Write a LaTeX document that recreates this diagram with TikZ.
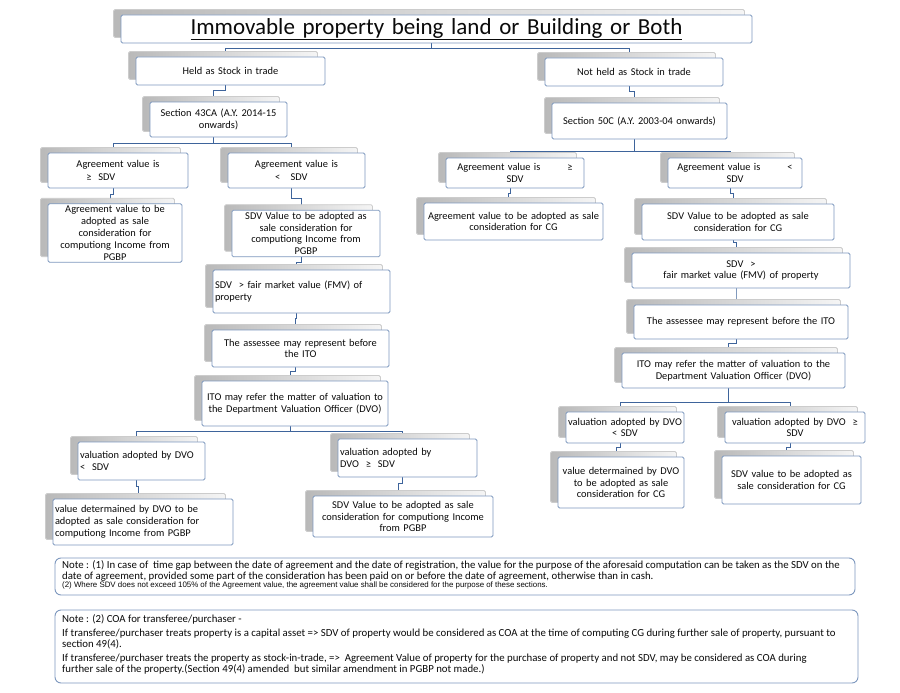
\documentclass[tikz,border=0pt]{standalone}
\usepackage{fontspec}
\setmainfont{Carlito}
\newfontfamily\arialf{Liberation Sans}
\usetikzlibrary{shadows,backgrounds}
\definecolor{bordc}{RGB}{125,152,190}
\definecolor{connc}{RGB}{62,100,155}
\definecolor{txtc}{RGB}{10,10,10}
\tikzset{
  box/.style={draw=bordc, line width=0.8pt, fill=white, rounded corners=1.5pt,
    inner xsep=2pt, inner ysep=2pt, align=center, text=txtc,
    font=\fontsize{10.4}{11.8}\selectfont,
    general shadow={shadow xshift=-7.5pt, shadow yshift=5.5pt,
      left color=gray!55, right color=gray!8, draw=gray!40}},
  conn/.style={draw=connc, line width=1pt},
  notebox/.style={draw=bordc, line width=0.9pt, rounded corners=6pt, fill=white}
}
% \bx[options]{name}{x1}{y1}{x2}{y2}{text}
\newcommand\bx[7][]{%
  \pgfmathsetmacro\bxw{#5-#3}\pgfmathsetmacro\bxh{#6-#4}\pgfmathsetmacro\bxtw{#5-#3-4}%
  \node[box,minimum width=\bxw pt,minimum height=\bxh pt,text width=\bxtw pt,#1]
    (#2) at ({(#3+#5)/2},{(#4+#6)/2}) {#7};}
% \lnk{parent}{child}{drop}
\newcommand\lnk[3]{\draw[conn] ([xshift=-5pt]#1.south) -- ++(0,#3) -| ([xshift=-5pt]#2.north);}
\begin{document}
\begin{tikzpicture}[x=1pt,y=-1pt]
\useasboundingbox (0,0) rectangle (900,693);
\begin{pgfonlayer}{background}
\fill[white] (0,0) rectangle (900,693);
\end{pgfonlayer}

% top
\bx[font=\fontsize{23}{25}\selectfont, inner ysep=0pt]{t}{121}{15}{752}{43}{\underline{Immovable property being land or Building or Both}}
\bx{h}{136}{57}{325}{85}{Held as Stock in trade}
\bx{nh}{545}{58}{723}{86}{Not held as Stock in trade}
\bx{s43}{150}{102}{287}{137}{Section 43CA (A.Y. 2014-15\\onwards)}
\bx{s50}{552}{103}{727}{139}{Section 50C (A.Y. 2003-04 onwards)}

% left branch
\bx{a1}{48}{153}{188}{188}{Agreement value is\\[2pt]\hspace*{-3.3em}≥\ \ SDV}
\bx{a2}{228}{153}{365}{188}{Agreement value is\\[2pt]\hspace*{-1em}<\ \ \ SDV}
\bx{a3}{48}{204}{182}{262}{Agreement value to be\\adopted as sale\\consideration for\\computiong Income from\\PGBP}
\bx{a4}{232}{211}{380}{256}{SDV Value to be adopted as\\sale consideration for\\computiong Income from\\PGBP}
\bx[align=left]{a5}{213}{270}{390}{313}{SDV\ \ > fair market value (FMV) of\\property\\[12pt]}
\bx{a6}{212}{330}{389}{367}{The assessee may represent before\\the ITO}
\bx{a7}{202}{381}{388}{426}{ITO may refer the matter of valuation to\\the Department Valuation Officer (DVO)}
\bx[align=left]{a8}{78}{442}{205}{480}{valuation adopted by DVO\\<\ \ SDV\\[6pt]}
\bx[align=left]{a9}{338}{439}{477}{477}{valuation adopted by\\DVO\ \ ≥\ \ SDV\\[6pt]}
\bx[align=left]{a10}{53}{499}{233}{545}{value determained by DVO to be\\adopted as sale consideration for\\computiong Income from PGBP}
\bx{a11}{313}{496}{493}{537}{SDV Value to be adopted as sale\\consideration for computiong Income\\from PGBP}

% right branch
\bx{b1}{446}{158}{584}{188}{Agreement value is\hspace{2.6em}≥\\SDV}
\bx{b2}{668}{158}{802}{188}{Agreement value is\hspace{2.6em}<\\SDV}
\bx{b3}{424}{203}{603}{240}{Agreement value to be adopted as sale\\consideration for CG}
\bx{b4}{642}{204}{834}{240}{SDV Value to be adopted as sale\\consideration for CG}
\bx{b5}{632}{253}{850}{288}{SDV\ \ >\\fair market value (FMV) of property}
\bx{b6}{634}{305}{848}{339}{The assessee may represent before the ITO}
\bx{b7}{622}{353}{845}{388}{ITO may refer the matter of valuation to the\\Department Valuation Officer (DVO)}
\bx{b8}{566}{412}{684}{443}{valuation adopted by DVO\\< SDV}
\bx{b9}{725}{412}{865}{443}{valuation adopted by DVO\ \ ≥\\SDV}
\bx{b10}{558}{457}{684}{508}{value determained by DVO\\to be adopted as sale\\consideration for CG}
\bx{b11}{722}{456}{861}{504}{SDV value to be adopted as\\sale consideration for CG}

% notes
\node[notebox, minimum width=800pt, minimum height=37pt] (n1) at (455,576.5) {};
\node[anchor=north west, inner sep=0pt, align=left, text=txtc,
  font=\fontsize{10.8}{10.4}\selectfont] (n1t) at (62,560.5)
  {Note : (1) In case of\ \ time gap between the date of agreement and the date of registration, the value for the purpose of the aforesaid computation can be taken as the SDV on the\\
   date of agreement, provided some part of the consideration has been paid on or before the date of agreement, otherwise than in cash.\\[-1.5pt]
   {\arialf\fontsize{7.9}{8.5}\selectfont (2) Where SDV does not exceed 105\% of the Agreement value, the agreement value shall be considered for the purpose of these sections.}};
\node[notebox, minimum width=803pt, minimum height=73pt] (n2) at (456.5,646.5) {};
\node[anchor=north west, inner sep=0pt, align=left, text=txtc,
  font=\fontsize{10.8}{11.2}\selectfont] (n2t) at (62,614)
  {Note : (2) COA for transferee/purchaser -\\[3pt]
   If transferee/purchaser treats property is a capital asset => SDV of property would be considered as COA at the time of computing CG during further sale of property, pursuant to\\
   section 49(4).\\[3pt]
   If transferee/purchaser treats the property as stock-in-trade, =>\ \ Agreement Value of property for the purchase of property and not SDV, may be considered as COA during\\
   further sale of the property.(Section 49(4) amended\ \ but similar amendment in PGBP not made.)};

% connectors
\begin{pgfonlayer}{background}
\lnk{t}{h}{5}
\lnk{t}{nh}{5}
\lnk{h}{s43}{5}
\lnk{nh}{s50}{5}
\lnk{s43}{a1}{6}
\lnk{s43}{a2}{6}
\lnk{s50}{b1}{12}
\lnk{s50}{b2}{12}
\lnk{a1}{a3}{6}
\lnk{a2}{a4}{10}
\lnk{a4}{a5}{5}
\lnk{a5}{a6}{5}
\lnk{a6}{a7}{4}
\lnk{a7}{a8}{5}
\lnk{a7}{a9}{5}
\lnk{a8}{a10}{6}
\lnk{a9}{a11}{6}
\lnk{b1}{b3}{5}
\lnk{b2}{b4}{5}
\lnk{b4}{b5}{2}
\lnk{b5}{b6}{5}
\lnk{b6}{b7}{4}
\lnk{b7}{b8}{14}
\lnk{b7}{b9}{14}
\lnk{b8}{b10}{4}
\lnk{b9}{b11}{4}
\end{pgfonlayer}
\end{tikzpicture}
\end{document}
